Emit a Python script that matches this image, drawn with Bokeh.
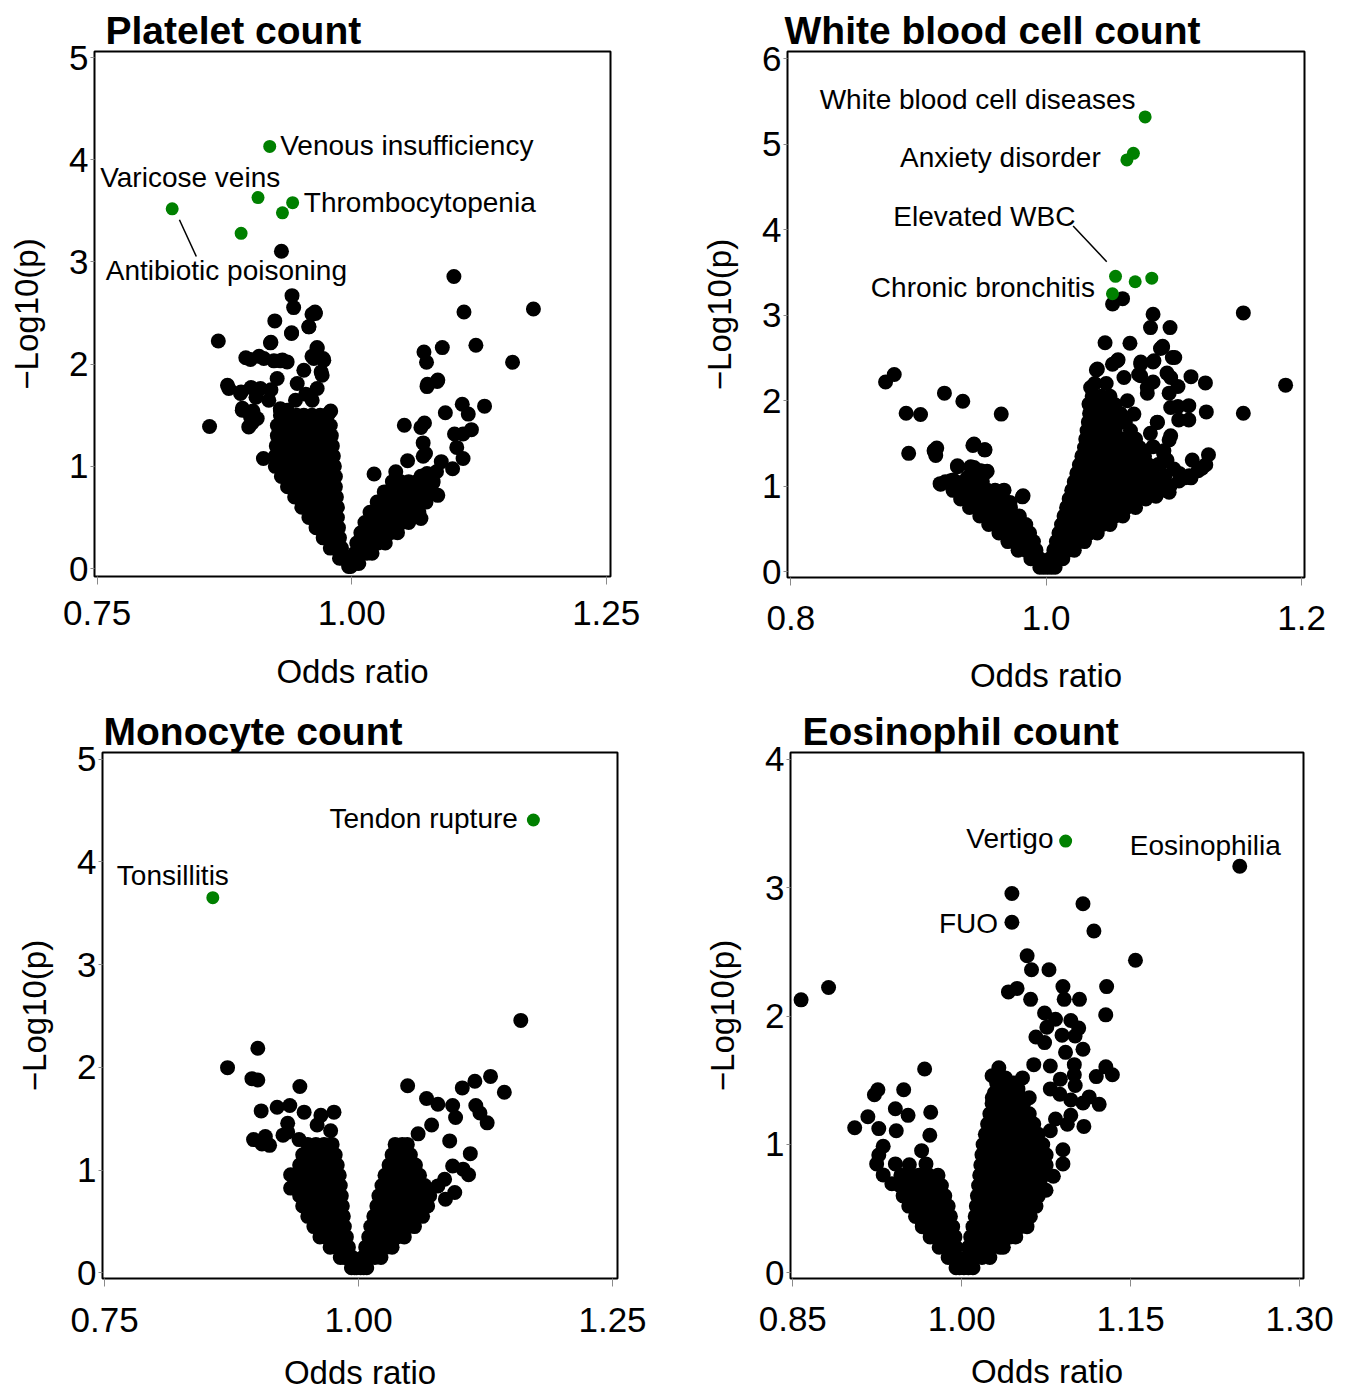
import math
from bokeh.plotting import figure
from bokeh.models import FixedTicker, Title, ColumnDataSource, NumeralTickFormatter
from bokeh.layouts import column, row
from bokeh.embed import file_html
from bokeh.resources import INLINE
from bokeh.core.properties import value

FONT = "Liberation Sans"
GREEN = "#008000"

# ======================= DATA =======================
# ---- Panel 1: Platelet count ----
p1_title = "Platelet count"
p1_xticks = [0.75, 1.00, 1.25]
p1_xtick_labels = ["0.75", "1.00", "1.25"]
p1_yticks = [0, 1, 2, 3, 4, 5]
p1_green = [(0.9195, 4.13), (0.908, 3.63), (0.942, 3.58), (0.932, 3.48), (0.8237, 3.52), (0.8914, 3.28)]
p1_sparse = [
    (0.931, 3.105), (1.1004, 2.857), (1.1785, 2.54), (1.1103, 2.51), (0.9414, 2.67), (0.943, 2.553),
    (0.964, 2.51), (0.961, 2.488), (0.9245, 2.423), (0.941, 2.306), (0.958, 2.366), (0.869, 2.227),
    (0.9207, 2.214), (0.966, 2.162), (1.122, 2.184), (1.089, 2.162), (1.071, 2.119), (1.158, 2.019),
    (0.896, 2.063), (0.909, 2.076), (0.9236, 2.032), (0.932, 2.041), (0.972, 2.054), (0.961, 2.076),
    (1.0735, 2.019), (0.97, 1.924), (1.0846, 1.845), (1.0744, 1.802), (0.878, 1.793), (0.9012, 1.772),
    (0.8914, 1.728), (0.906, 1.676), (0.9207, 1.75), (0.9549, 1.706), (1.1305, 1.589), (1.1086, 1.607),
    (1.092, 1.524), (1.1145, 1.511), (0.8927, 1.568), (0.903, 1.541), (0.9299, 1.563), (0.9794, 1.541),
    (0.9021, 1.424), (0.8604, 1.39), (1.0517, 1.4025), (1.068, 1.381), (1.0715, 1.424), (1.1176, 1.359),
    (1.101, 1.316), (1.1094, 1.316), (1.0702, 1.229), (1.1032, 1.185), (1.0702, 1.098), (1.1094, 1.077),
    (0.9133, 1.077), (1.088, 1.046), (1.0549, 1.055), (1.0991, 0.977), (1.022, 0.925), (1.0433, 0.947),
    (1.0833, 0.947), (1.068, 0.903), (1.0796, 0.838), (1.0846, 0.716), (1.0702, 0.795), (1.068, 0.49),
    (0.9644, 2.495), (0.9579, 2.365), (0.9409, 2.3), (0.9202, 2.208), (0.9006, 2.045), (0.9137, 2.055),
    (0.93, 2.032), (0.9366, 2.022), (0.9661, 2.153), (0.9726, 2.038), (0.9628, 2.055), (0.8793, 1.761),
    (0.8908, 1.712), (0.9104, 1.761), (0.9186, 1.647), (0.9268, 1.859), (0.93, 1.549), (0.8925, 1.549),
    (0.9006, 1.484), (0.9072, 1.468), (0.8989, 1.386), (0.971, 1.891), (0.953, 1.94), (0.9465, 1.81),
    (0.9661, 1.761), (0.9775, 1.517), (0.9612, 1.647), (0.9448, 1.647), (0.9366, 1.549), (1.0725, 1.125),
    (1.074, 1.78), (1.084, 1.83), (1.0676, 0.83), (1.074, 0.93),
]
p1_rows_left = [
    (0.02, [0.997, 0.999]),
    (0.10, [0.988, 0.991, 0.994]),
    (0.20, [0.979, 0.984, 0.988, 0.990]),
    (0.30, [0.972, 0.977, 0.982, 0.986, 0.988]),
    (0.40, [0.965, 0.971, 0.977, 0.982, 0.987]),
    (0.50, [0.958, 0.964, 0.970, 0.976, 0.981, 0.986]),
    (0.60, [0.951, 0.958, 0.965, 0.971, 0.977, 0.982, 0.986]),
    (0.70, [0.944, 0.951, 0.958, 0.965, 0.971, 0.977, 0.981, 0.985]),
    (0.80, [0.937, 0.944, 0.951, 0.958, 0.965, 0.971, 0.977, 0.984]),
    (0.90, [0.931, 0.938, 0.945, 0.952, 0.959, 0.966, 0.972, 0.978, 0.984]),
    (1.00, [0.925, 0.932, 0.939, 0.946, 0.953, 0.960, 0.967, 0.973, 0.978, 0.983]),
    (1.10, [0.925, 0.932, 0.939, 0.946, 0.953, 0.960, 0.966, 0.972, 0.977, 0.982]),
    (1.20, [0.926, 0.933, 0.940, 0.947, 0.954, 0.961, 0.967, 0.973, 0.981]),
    (1.30, [0.927, 0.934, 0.941, 0.948, 0.955, 0.962, 0.968, 0.974, 0.980]),
    (1.40, [0.927, 0.935, 0.943, 0.950, 0.957, 0.964, 0.971, 0.979]),
    (1.50, [0.930, 0.938, 0.946, 0.953, 0.961, 0.969, 0.976]),
]
p1_rows_right = [
    (0.05, [1.001, 1.004, 1.007]),
    (0.15, [1.003, 1.009, 1.015, 1.020]),
    (0.25, [1.005, 1.012, 1.019, 1.026, 1.033]),
    (0.35, [1.009, 1.016, 1.023, 1.030, 1.038, 1.045]),
    (0.45, [1.013, 1.020, 1.027, 1.034, 1.041, 1.049, 1.056]),
    (0.55, [1.018, 1.025, 1.032, 1.039, 1.046, 1.053, 1.060, 1.066]),
    (0.65, [1.025, 1.032, 1.039, 1.046, 1.053, 1.060, 1.067, 1.073]),
    (0.75, [1.032, 1.040, 1.048, 1.056, 1.064, 1.071, 1.078]),
    (0.85, [1.040, 1.048, 1.056, 1.064, 1.072, 1.080]),
]
p1_labels = ["Venous insufficiency", "Thrombocytopenia", "Varicose veins", "Antibiotic poisoning"]
p1_label_x = [0.9298, 0.953, 0.753, 0.7584]
p1_label_y = [4.143, 3.585, 3.826, 2.912]
p1_label_align = ["left", "left", "left", "left"]
p1_leader = [(0.8308, 3.413, 0.8474, 3.053)]

# ---- Panel 2: White blood cell count ----
p2_title = "White blood cell count"
p2_xticks = [0.8, 1.0, 1.2]
p2_xtick_labels = ["0.8", "1.0", "1.2"]
p2_yticks = [0, 1, 2, 3, 4, 5, 6]
p2_green = [(1.0775, 5.32), (1.0683, 4.894), (1.0632, 4.816), (1.0543, 3.454), (1.0697, 3.391),
            (1.0827, 3.433), (1.0519, 3.25)]
p2_sparse = [
    (1.0598, 3.193), (1.052, 3.13), (1.1544, 3.026), (1.0837, 3.01), (1.0817, 2.854), (1.097, 2.854),
    (1.0461, 2.677), (1.0656, 2.671), (1.0912, 2.635), (1.0895, 2.609), (1.1007, 2.504), (1.0741, 2.452),
    (1.0837, 2.452), (1.0563, 2.478), (1.0519, 2.426), (1.0393, 2.358), (1.0724, 2.306), (1.0946, 2.322),
    (1.0837, 2.217), (1.1032, 2.165), (1.1134, 2.28), (1.1247, 2.207), (1.0792, 2.087), (1.0963, 2.087),
    (1.1032, 1.93), (1.1117, 1.941), (1.1254, 1.868), (1.1544, 1.852), (1.1875, 2.181), (1.1117, 1.774),
    (1.1038, 1.774), (1.0963, 1.539), (1.0871, 1.748), (1.0816, 1.617), (1.0919, 1.383), (1.0837, 1.461),
    (1.0946, 1.304), (1.1271, 1.367), (1.1144, 1.304), (1.122, 1.21), (1.1083, 1.096), (1.1134, 1.096),
    (1.0963, 0.929), (1.0878, 1.252), (1.0758, 1.252), (1.0878, 1.07), (1.1042, 1.148),
    (1.0401, 2.369), (1.0557, 2.466), (1.0609, 2.27), (1.074, 2.427), (1.0844, 2.466), (1.091, 2.621),
    (1.0988, 2.504), (1.074, 2.29), (1.0975, 2.27), (1.0792, 2.153), (1.0348, 2.153), (1.0335, 1.959),
    (1.0452, 1.959), (1.0636, 1.998), (1.087, 1.744), (1.0557, 1.725), (1.0687, 1.842), (1.0975, 1.919),
    (1.0975, 1.588), (1.0922, 1.412), (1.0896, 1.257),
    (1.086, 0.88), (1.09, 0.95), (1.097, 1.0), (1.104, 1.06), (1.112, 1.12), (1.119, 1.18), (1.125, 1.25),
    (1.093, 1.12), (1.1, 1.2),
    (0.8742, 2.217), (0.881, 2.306), (0.8903, 1.852), (0.9016, 1.837), (0.9203, 2.087), (0.9347, 1.993),
    (0.9648, 1.842), (0.8923, 1.383), (0.9125, 1.419), (0.9135, 1.357), (0.9426, 1.476), (0.9518, 1.424),
    (0.9169, 1.028), (0.9272, 1.07), (0.9306, 1.226), (0.9409, 1.226), (0.9426, 1.148), (0.9494, 1.174),
    (0.9538, 1.174), (0.946, 1.043), (0.934, 1.043), (0.9819, 0.887), (0.9648, 0.939), (0.9716, 0.809),
    (0.9122, 1.412), (0.9143, 1.444), (0.9435, 1.491), (0.9521, 1.424), (0.9305, 1.237), (0.9435, 1.217),
    (0.9487, 1.178), (0.9526, 1.159), (0.9383, 1.1), (0.9448, 1.1), (0.9252, 1.061), (0.9174, 1.022),
    (0.9814, 0.874), (0.967, 0.952),
]
p2_rows_left = [
    (0.05, [0.995, 0.998]),
    (0.15, [0.988, 0.992, 0.995]),
    (0.25, [0.978, 0.984, 0.989, 0.992]),
    (0.35, [0.970, 0.976, 0.982, 0.987, 0.990]),
    (0.45, [0.963, 0.969, 0.975, 0.981, 0.987]),
    (0.55, [0.955, 0.961, 0.967, 0.973, 0.979, 0.984]),
    (0.65, [0.948, 0.954, 0.960, 0.966, 0.972, 0.979]),
    (0.75, [0.940, 0.946, 0.953, 0.959, 0.966, 0.972]),
    (0.85, [0.933, 0.940, 0.947, 0.953, 0.960, 0.966]),
    (0.95, [0.927, 0.934, 0.941, 0.948, 0.954, 0.960]),
    (1.05, [0.921, 0.929, 0.937, 0.950]),
]
p2_rows_right = [
    (0.05, [1.001, 1.004, 1.007]),
    (0.15, [1.003, 1.008, 1.013]),
    (0.25, [1.006, 1.012, 1.017, 1.022]),
    (0.35, [1.008, 1.014, 1.020, 1.025, 1.030]),
    (0.45, [1.010, 1.016, 1.022, 1.028, 1.034, 1.040]),
    (0.55, [1.012, 1.018, 1.025, 1.031, 1.037, 1.044, 1.050]),
    (0.65, [1.014, 1.020, 1.027, 1.033, 1.040, 1.047, 1.054, 1.060]),
    (0.75, [1.016, 1.022, 1.029, 1.035, 1.042, 1.049, 1.056, 1.063, 1.070]),
    (0.85, [1.018, 1.024, 1.031, 1.037, 1.044, 1.051, 1.058, 1.065, 1.072, 1.078]),
    (0.95, [1.020, 1.026, 1.033, 1.039, 1.046, 1.053, 1.060, 1.067, 1.074, 1.080, 1.086]),
    (1.05, [1.022, 1.028, 1.035, 1.041, 1.048, 1.055, 1.062, 1.069, 1.076, 1.085]),
    (1.15, [1.024, 1.030, 1.037, 1.043, 1.050, 1.057, 1.064, 1.071, 1.077, 1.083]),
    (1.25, [1.026, 1.032, 1.039, 1.045, 1.052, 1.059, 1.066, 1.073, 1.080]),
    (1.35, [1.028, 1.034, 1.041, 1.048, 1.055, 1.062, 1.070, 1.077]),
    (1.45, [1.030, 1.036, 1.043, 1.050, 1.057, 1.064, 1.073]),
    (1.55, [1.031, 1.037, 1.044, 1.052, 1.060, 1.070]),
    (1.65, [1.032, 1.038, 1.046, 1.054, 1.066]),
    (1.75, [1.033, 1.039, 1.047, 1.055, 1.062]),
    (1.85, [1.034, 1.040, 1.048, 1.058]),
    (1.95, [1.035, 1.042, 1.050, 1.054]),
    (2.05, [1.036, 1.043, 1.050]),
    (2.20, [1.038, 1.047]),
]
p2_labels = ["White blood cell diseases", "Anxiety disorder", "Elevated WBC", "Chronic bronchitis"]
p2_label_x = [1.070, 1.0427, 1.0229, 1.0382]
p2_label_y = [5.518, 4.84, 4.151, 3.327]
p2_label_align = ["right", "right", "right", "right"]
p2_leader = [(1.0211, 4.043, 1.0474, 3.626)]

# ---- Panel 3: Monocyte count ----
p3_title = "Monocyte count"
p3_xticks = [0.75, 1.00, 1.25]
p3_xtick_labels = ["0.75", "1.00", "1.25"]
p3_yticks = [0, 1, 2, 3, 4, 5]
p3_green = [(1.1721, 4.407), (0.8565, 3.651)]
p3_sparse = [
    (1.1597, 2.457), (0.9008, 2.186), (0.871, 1.997), (0.895, 1.89), (0.9008, 1.877), (0.9422, 1.813),
    (1.0483, 1.821), (1.1299, 1.912), (1.1145, 1.864), (1.1021, 1.8), (1.1435, 1.757), (1.0669, 1.697),
    (1.0781, 1.641), (1.0926, 1.628), (1.0955, 1.512), (1.1154, 1.628), (1.1195, 1.555), (1.1266, 1.46),
    (0.9041, 1.576), (0.9198, 1.611), (0.9323, 1.628), (0.9464, 1.564), (0.9302, 1.456), (0.9302, 1.37),
    (0.9256, 1.34), (0.8966, 1.297), (0.9082, 1.327), (0.9049, 1.254), (0.9124, 1.241), (0.9414, 1.297),
    (0.9592, 1.439), (0.9629, 1.533), (0.9758, 1.564), (0.9725, 1.383), (1.0586, 1.353), (1.0719, 1.439),
    (1.0897, 1.284), (1.11, 1.16), (1.0926, 1.04), (1.1029, 1.009), (1.1083, 0.954), (1.0847, 0.911),
    (1.0781, 0.846), (1.0855, 0.717), (1.0947, 0.782), (0.9331, 0.954), (0.9331, 0.825), (1.0483, 1.018),
    (1.0367, 1.233), (1.0408, 1.082),
]
p3_rows_left = [
    (0.05, [0.993, 0.996, 0.998]),
    (0.15, [0.982, 0.986, 0.990, 0.994]),
    (0.25, [0.972, 0.978, 0.984, 0.990]),
    (0.35, [0.962, 0.968, 0.975, 0.981, 0.988]),
    (0.45, [0.956, 0.962, 0.969, 0.975, 0.981, 0.986]),
    (0.55, [0.950, 0.957, 0.964, 0.971, 0.978, 0.985]),
    (0.65, [0.945, 0.952, 0.959, 0.966, 0.973, 0.979, 0.984]),
    (0.75, [0.942, 0.949, 0.956, 0.963, 0.970, 0.977, 0.983]),
    (0.85, [0.940, 0.947, 0.954, 0.961, 0.968, 0.975, 0.982]),
    (0.95, [0.940, 0.947, 0.954, 0.961, 0.968, 0.975, 0.981]),
    (1.05, [0.942, 0.949, 0.956, 0.963, 0.970, 0.979]),
    (1.15, [0.945, 0.952, 0.960, 0.968, 0.977]),
    (1.25, [0.950, 0.958, 0.966, 0.974]),
]
p3_rows_right = [
    (0.05, [1.002, 1.005, 1.008]),
    (0.15, [1.004, 1.010, 1.016, 1.022]),
    (0.25, [1.007, 1.013, 1.020, 1.027, 1.033]),
    (0.35, [1.010, 1.017, 1.024, 1.031, 1.038, 1.045]),
    (0.45, [1.012, 1.019, 1.026, 1.033, 1.041, 1.048, 1.055]),
    (0.55, [1.015, 1.022, 1.029, 1.036, 1.043, 1.050, 1.057, 1.063]),
    (0.65, [1.018, 1.025, 1.032, 1.039, 1.046, 1.053, 1.061, 1.068]),
    (0.75, [1.020, 1.027, 1.034, 1.041, 1.048, 1.055, 1.063, 1.070]),
    (0.85, [1.023, 1.030, 1.037, 1.044, 1.051, 1.058, 1.065]),
    (0.95, [1.026, 1.033, 1.040, 1.047, 1.054, 1.060]),
    (1.05, [1.030, 1.037, 1.044, 1.051, 1.056]),
    (1.15, [1.033, 1.040, 1.046, 1.051]),
    (1.25, [1.036, 1.043, 1.048]),
]
p3_labels = ["Tendon rupture", "Tonsillitis"]
p3_label_x = [1.1568, 0.762]
p3_label_y = [4.422, 3.863]
p3_label_align = ["right", "left"]
p3_leader = []

# ---- Panel 4: Eosinophil count ----
p4_title = "Eosinophil count"
p4_xticks = [0.85, 1.00, 1.15, 1.30]
p4_xtick_labels = ["0.85", "1.00", "1.15", "1.30"]
p4_yticks = [0, 1, 2, 3, 4]
p4_green = [(1.0923, 3.364)]
p4_sparse = [
    (1.2469, 3.168), (1.0446, 2.732),
    (1.0446, 2.955), (1.1077, 2.876), (1.1174, 2.663), (1.1543, 2.436), (1.0581, 2.471), (1.062, 2.361),
    (1.0775, 2.361), (1.0415, 2.189), (1.0492, 2.216), (1.0612, 2.131), (1.0899, 2.23), (1.091, 2.131),
    (1.1046, 2.131), (1.1287, 2.23), (1.1279, 2.01), (0.8574, 2.127), (0.8818, 2.223), (1.0736, 2.024),
    (1.0833, 1.976), (1.0756, 1.914), (1.0969, 1.966), (1.1039, 1.907), (1.0659, 1.838), (1.0736, 1.794),
    (1.0891, 1.852), (1.1007, 1.845), (1.0922, 1.718), (1.1077, 1.742), (1.1, 1.622), (1.0787, 1.612),
    (1.064, 1.622), (1.128, 1.605), (1.1338, 1.543), (1.1195, 1.529), (1.1, 1.543), (1.0876, 1.509),
    (1.1008, 1.46), (1.0787, 1.433), (1.0872, 1.392), (1.0969, 1.347), (1.1132, 1.371), (1.1221, 1.313),
    (1.1077, 1.323), (1.0969, 1.227), (1.0938, 1.158), (1.1085, 1.141), (1.0833, 1.199), (1.0787, 1.107),
    (1.0899, 0.959), (1.0899, 0.849), (1.0814, 0.753), (1.0749, 0.643),
    (1.033, 1.598), (1.027, 1.536), (1.0388, 1.519), (1.035, 1.433), (1.054, 1.519), (1.06, 1.364),
    (1.05, 1.433), (1.0465, 1.261), (1.0272, 1.364), (1.0427, 1.467),
    (0.9671, 1.588), (0.9256, 1.426), (0.9225, 1.388), (0.9485, 1.426), (0.9167, 1.216), (0.9411, 1.278),
    (0.9524, 1.227), (0.9725, 1.251), (0.905, 1.131), (0.9264, 1.124), (0.9419, 1.107), (0.9717, 1.072),
    (0.9303, 0.986), (0.9644, 0.952), (0.9264, 0.918), (0.9245, 0.849), (0.9411, 0.849), (0.9535, 0.842),
    (0.9683, 0.849), (0.9303, 0.763), (0.938, 0.694), (0.9593, 0.729),
]
p4_rows_left = [
    (0.04, [0.995, 0.998]),
    (0.12, [0.988, 0.992, 0.996]),
    (0.20, [0.980, 0.985, 0.990, 0.995]),
    (0.28, [0.972, 0.978, 0.984, 0.989, 0.994]),
    (0.36, [0.965, 0.971, 0.977, 0.983, 0.988, 0.992]),
    (0.44, [0.959, 0.965, 0.971, 0.977, 0.983, 0.990]),
    (0.52, [0.953, 0.959, 0.965, 0.971, 0.977, 0.983, 0.988]),
    (0.60, [0.948, 0.954, 0.961, 0.968, 0.975, 0.985]),
    (0.68, [0.945, 0.952, 0.959, 0.966, 0.974, 0.982]),
    (0.76, [0.946, 0.954, 0.962, 0.971, 0.979]),
]
p4_rows_right = [
    (0.04, [1.002, 1.006, 1.010]),
    (0.12, [1.004, 1.011, 1.018, 1.025]),
    (0.20, [1.006, 1.013, 1.020, 1.027, 1.034, 1.037]),
    (0.28, [1.008, 1.015, 1.022, 1.029, 1.036, 1.043, 1.048]),
    (0.36, [1.010, 1.017, 1.024, 1.031, 1.038, 1.045, 1.052, 1.058]),
    (0.44, [1.012, 1.019, 1.026, 1.033, 1.040, 1.047, 1.054, 1.061]),
    (0.52, [1.013, 1.020, 1.027, 1.034, 1.041, 1.048, 1.055, 1.062, 1.066]),
    (0.60, [1.014, 1.021, 1.028, 1.035, 1.042, 1.049, 1.056, 1.063, 1.068]),
    (0.68, [1.015, 1.022, 1.029, 1.036, 1.043, 1.050, 1.057, 1.064, 1.070]),
    (0.76, [1.016, 1.023, 1.030, 1.037, 1.044, 1.051, 1.058, 1.065, 1.073]),
    (0.84, [1.017, 1.024, 1.031, 1.038, 1.045, 1.052, 1.059, 1.067, 1.075]),
    (0.92, [1.018, 1.025, 1.032, 1.039, 1.046, 1.053, 1.061, 1.068, 1.075]),
    (1.00, [1.019, 1.026, 1.033, 1.040, 1.047, 1.054, 1.062, 1.072]),
    (1.08, [1.021, 1.028, 1.035, 1.042, 1.049, 1.056, 1.063, 1.068]),
    (1.16, [1.023, 1.030, 1.037, 1.044, 1.051, 1.058, 1.064]),
    (1.24, [1.025, 1.032, 1.039, 1.046, 1.053, 1.060]),
    (1.32, [1.027, 1.034, 1.042, 1.050, 1.055]),
    (1.40, [1.029, 1.037, 1.045, 1.050]),
    (1.48, [1.031, 1.040, 1.046]),
]
p4_labels = ["Vertigo", "Eosinophilia", "FUO"]
p4_label_x = [1.0815, 1.1493, 1.0323]
p4_label_y = [3.387, 3.328, 2.718]
p4_label_align = ["right", "left", "right"]
p4_leader = []


# ======================= DRAWING =======================
def expand(rows):
    xs, ys = [], []
    for yv, xlist in rows:
        for xv in xlist:
            xs.append(xv)
            ys.append(yv)
    return xs, ys


def make_panel(cfg):
    p = figure(frame_width=cfg["fw"], frame_height=cfg["fh"],
               x_range=cfg["xr"], y_range=cfg["yr"],
               output_backend="svg", toolbar_location=None, title_location=None,
               min_border_left=cfg["bl"], min_border_right=cfg["br"],
               min_border_top=cfg["bt"], min_border_bottom=cfg["bb"],
               background_fill_color="white", border_fill_color="white")
    p.grid.visible = False
    p.outline_line_color = "black"
    p.outline_line_width = 2
    p.outline_line_alpha = 1.0

    p.add_layout(Title(text=cfg["title"], align="left", offset=cfg["toff"], standoff=0,
                       text_font=FONT, text_font_size="39px", text_font_style="bold",
                       text_color="black"), "above")

    p.xaxis.ticker = FixedTicker(ticks=cfg["xt"])
    p.xaxis.formatter = NumeralTickFormatter(format=cfg["fmt"])
    p.xaxis.major_label_overrides = {t: l for t, l in zip(cfg["xt"], cfg["xtl"])}
    p.yaxis.ticker = FixedTicker(ticks=cfg["yt"])
    for ax in (p.xaxis, p.yaxis):
        ax.axis_line_color = None
        ax.minor_tick_line_color = None
        ax.major_tick_line_color = "#8a8a8a"
        ax.major_tick_line_width = 1
        ax.major_tick_in = 0
        ax.major_label_text_font = FONT
        ax.major_label_text_font_size = "35px"
        ax.major_label_text_color = "black"
        ax.axis_label_text_font = FONT
        ax.axis_label_text_font_size = "33px"
        ax.axis_label_text_font_style = "normal"
        ax.axis_label_text_color = "black"
    p.yaxis.major_tick_out = 4
    p.yaxis.major_label_standoff = 2
    p.xaxis.major_tick_out = 8
    p.xaxis.major_label_standoff = cfg["xstand"]
    p.xaxis.axis_label = "Odds ratio"
    p.xaxis.axis_label_standoff = cfg["xlstand"]
    p.yaxis.axis_label = "\u2212Log10(p)"
    p.yaxis.axis_label_standoff = cfg["ylstand"]

    lx, ly = expand(cfg["rows_l"])
    rx, ry = expand(cfg["rows_r"])
    bx = lx + rx + [pt[0] for pt in cfg["sparse"]]
    by = ly + ry + [pt[1] for pt in cfg["sparse"]]
    p.scatter(x=bx, y=by, size=15, fill_color="black", line_color=None)
    p.scatter(x=[pt[0] for pt in cfg["green"]], y=[pt[1] for pt in cfg["green"]],
              size=13, fill_color=GREEN, line_color=None)

    if cfg["leader"]:
        p.segment(x0=[s[0] for s in cfg["leader"]], y0=[s[1] for s in cfg["leader"]],
                  x1=[s[2] for s in cfg["leader"]], y1=[s[3] for s in cfg["leader"]],
                  line_color="black", line_width=1.5)

    for align in ("left", "right"):
        idx = [i for i, a in enumerate(cfg["lalign"]) if a == align]
        if not idx:
            continue
        src = ColumnDataSource(dict(x=[cfg["lx"][i] for i in idx], y=[cfg["ly"][i] for i in idx],
                                    t=[cfg["labels"][i] for i in idx]))
        p.text(x="x", y="y", text="t", source=src, text_align=value(align),
               text_baseline=value("middle"), text_font=value(FONT),
               text_font_size=value("28px"), text_color="black")
    return p


f1 = make_panel(dict(fw=516, fh=525, bl=94, br=88, bt=48, bb=130, toff=11,
                     xr=(0.7474, 1.2542), yr=(-0.078, 5.059), xt=p1_xticks, xtl=p1_xtick_labels,
                     fmt="0.00", yt=p1_yticks, xstand=16, xlstand=25, ylstand=21,
                     rows_l=p1_rows_left, rows_r=p1_rows_right,
                     sparse=p1_sparse, green=p1_green, leader=p1_leader, labels=p1_labels,
                     lx=p1_label_x, ly=p1_label_y, lalign=p1_label_align, title=p1_title))
f2 = make_panel(dict(fw=517, fh=526, bl=89, br=40, bt=51, bb=126, toff=-3,
                     xr=(0.7974, 1.2023), yr=(-0.07, 6.085), xt=p2_xticks, xtl=p2_xtick_labels,
                     fmt="0.0", yt=p2_yticks, xstand=20, xlstand=24, ylstand=21,
                     rows_l=p2_rows_left, rows_r=p2_rows_right,
                     sparse=p2_sparse, green=p2_green, leader=p2_leader, labels=p2_labels,
                     lx=p2_label_x, ly=p2_label_y, lalign=p2_label_align, title=p2_title))
f3 = make_panel(dict(fw=515, fh=526, bl=102, br=81, bt=49, bb=114, toff=1,
                     xr=(0.7479, 1.2549), yr=(-0.055, 5.064), xt=p3_xticks, xtl=p3_xtick_labels,
                     fmt="0.00", yt=p3_yticks, xstand=21, xlstand=19, ylstand=21,
                     rows_l=p3_rows_left, rows_r=p3_rows_right,
                     sparse=p3_sparse, green=p3_green, leader=p3_leader, labels=p3_labels,
                     lx=p3_label_x, ly=p3_label_y, lalign=p3_label_align, title=p3_title))
f4 = make_panel(dict(fw=513, fh=526, bl=92, br=41, bt=49, bb=114, toff=12,
                     xr=(0.848, 1.3035), yr=(-0.044, 4.054), xt=p4_xticks, xtl=p4_xtick_labels,
                     fmt="0.00", yt=p4_yticks, xstand=20, xlstand=19, ylstand=21,
                     rows_l=p4_rows_left, rows_r=p4_rows_right,
                     sparse=p4_sparse, green=p4_green, leader=p4_leader, labels=p4_labels,
                     lx=p4_label_x, ly=p4_label_y, lalign=p4_label_align, title=p4_title))

layout = column(row(f1, f2), row(f3, f4))
open("out.html", "w").write(file_html(layout, INLINE))
